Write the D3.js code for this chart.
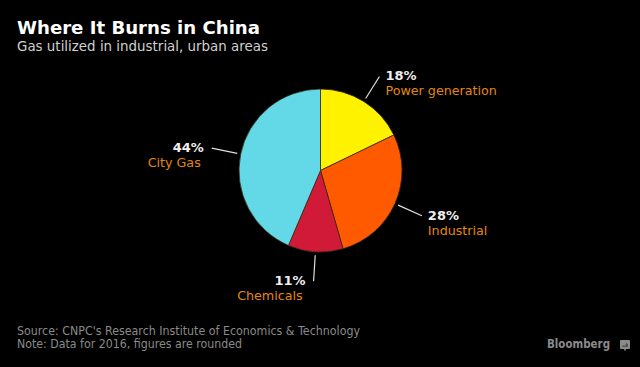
<!DOCTYPE html>
<html>
<head>
<meta charset="utf-8">
<script src="https://cdn.jsdelivr.net/npm/d3@7"></script>
<style>
  html, body { margin: 0; padding: 0; background: #000; }
  svg { display: block; }
</style>
</head>
<body>
<svg id="chart" width="640" height="367"></svg>
<script>
const categories = ["Power generation", "Industrial", "Chemicals", "City Gas"];
const values = [18, 28, 11, 44];
const pctLabels = ["18%", "28%", "11%", "44%"];
const colors = ["#fff200", "#ff5a00", "#d01a37", "#63d8e6"];

const svg = d3.select("#chart");
svg.append("rect").attr("width", 640).attr("height", 367).attr("fill", "#000");

const font = "'DejaVu Sans', Verdana, sans-serif";

svg.append("text").attr("x", 17).attr("y", 34)
  .attr("font-family", font).attr("font-weight", "bold").attr("font-size", 18.5)
  .attr("fill", "#fff").attr("textLength", 243).attr("lengthAdjust", "spacingAndGlyphs")
  .text("Where It Burns in China");
svg.append("text").attr("x", 17).attr("y", 51)
  .attr("font-family", font).attr("font-size", 14)
  .attr("fill", "#d0d0d0").attr("textLength", 251).attr("lengthAdjust", "spacingAndGlyphs")
  .text("Gas utilized in industrial, urban areas");

const cx = 320.5, cy = 170.5, R = 81.5;
const g = svg.append("g").attr("transform", `translate(${cx},${cy})`);

const pie = d3.pie().sort(null).value(d => d.v);
const data = categories.map((c, i) => ({ c, v: values[i], p: pctLabels[i], col: colors[i] }));
const arcs = pie(data);
const arc = d3.arc().innerRadius(0).outerRadius(R);

g.selectAll("path.slice").data(arcs).enter().append("path")
  .attr("class", "slice")
  .attr("d", arc)
  .attr("fill", d => d.data.col)
  .attr("stroke", "#3a2a10").attr("stroke-width", 0.8);

const lineInner = d3.arc().innerRadius(85).outerRadius(85);
const lineOuter = d3.arc().innerRadius(111).outerRadius(111);

arcs.forEach(d => {
  const a = lineInner.centroid(d);
  const b = lineOuter.centroid(d);
  g.append("line").attr("x1", a[0]).attr("y1", a[1]).attr("x2", b[0]).attr("y2", b[1])
    .attr("stroke", "#e0e0e0").attr("stroke-width", 1.2);
  const mid = (d.startAngle + d.endAngle) / 2;
  const right = Math.sin(mid) > 0;
  const tx = b[0] + (right ? 6 : -8);
  const anchor = right ? "start" : "end";
  g.append("text").attr("x", tx).attr("y", b[1] + 4)
    .attr("text-anchor", anchor)
    .attr("font-family", font).attr("font-weight", "bold").attr("font-size", 13)
    .attr("fill", "#eeeeee").text(d.data.p);
  g.append("text").attr("x", tx + (right ? 0 : -3)).attr("y", b[1] + 19)
    .attr("text-anchor", anchor)
    .attr("font-family", font).attr("font-size", 12.7)
    .attr("fill", "#e3890a").text(d.data.c);
});

svg.append("text").attr("x", 17).attr("y", 335)
  .attr("font-family", font).attr("font-size", 12)
  .attr("fill", "#8a8a8a").attr("textLength", 343).attr("lengthAdjust", "spacingAndGlyphs")
  .text("Source: CNPC's Research Institute of Economics & Technology");
svg.append("text").attr("x", 17).attr("y", 348)
  .attr("font-family", font).attr("font-size", 12)
  .attr("fill", "#8a8a8a").attr("textLength", 225).attr("lengthAdjust", "spacingAndGlyphs")
  .text("Note: Data for 2016, figures are rounded");

svg.append("text").attr("x", 547).attr("y", 348)
  .attr("font-family", font).attr("font-weight", "bold").attr("font-size", 13)
  .attr("fill", "#8a8a8a").attr("textLength", 63).attr("lengthAdjust", "spacingAndGlyphs")
  .text("Bloomberg");
// small logo mark
const logo = svg.append("g").attr("transform", "translate(620,340)");
logo.append("rect").attr("width", 10).attr("height", 9).attr("rx", 1).attr("fill", "#8a8a8a");
logo.append("path").attr("d", "M4,9 L5,11.5 L6,9 Z").attr("fill", "#8a8a8a");
logo.append("path").attr("d", "M2,7 L3,5 L5,6 L6,3 L8,4 L8,7 Z").attr("fill", "#555");
</script>
</body>
</html>
